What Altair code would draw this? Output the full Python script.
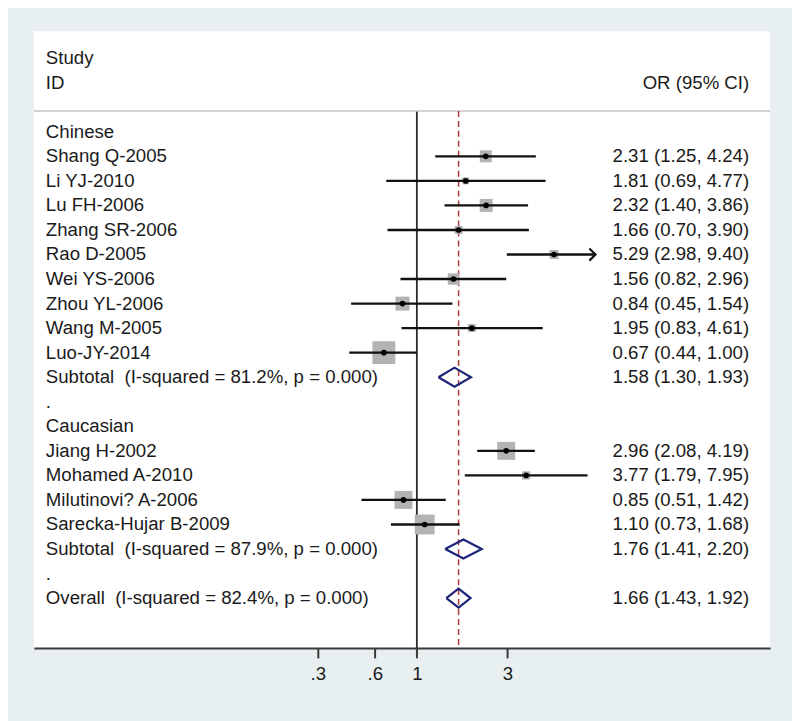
import altair as alt
import pandas as pd

# ---------------- data ----------------
studies = ["Shang Q-2005", "Li YJ-2010", "Lu FH-2006", "Zhang SR-2006", "Rao D-2005",
           "Wei YS-2006", "Zhou YL-2006", "Wang M-2005", "Luo-JY-2014",
           "Jiang H-2002", "Mohamed A-2010", "Milutinovi? A-2006", "Sarecka-Hujar B-2009"]
study_rows = [4, 5, 6, 7, 8, 9, 10, 11, 12, 16, 17, 18, 19]
or_vals = [2.31, 1.81, 2.32, 1.66, 5.29, 1.56, 0.84, 1.95, 0.67, 2.96, 3.77, 0.85, 1.10]
lo_vals = [1.25, 0.69, 1.40, 0.70, 2.98, 0.82, 0.45, 0.83, 0.44, 2.08, 1.79, 0.51, 0.73]
hi_vals = [4.24, 4.77, 3.86, 3.90, 9.40, 2.96, 1.54, 4.61, 1.00, 4.19, 7.95, 1.42, 1.68]
weights = [5.7, 1.9, 6.7, 2.5, 3.2, 5.2, 7.7, 2.5, 20.8, 12.8, 2.7, 12.8, 15.7]

summary_labels = ["Subtotal\u00a0 (I-squared = 81.2%, p = 0.000)",
                  "Subtotal\u00a0 (I-squared = 87.9%, p = 0.000)",
                  "Overall\u00a0 (I-squared = 82.4%, p = 0.000)"]
summary_rows = [13, 20, 22]
sum_or = [1.58, 1.76, 1.66]
sum_lo = [1.30, 1.41, 1.43]
sum_hi = [1.93, 2.20, 1.92]

header_labels = ["Study", "ID", "Chinese", ".", "Caucasian", "."]
header_rows = [0, 1, 3, 14, 15, 21]

tick_values = [0.3, 0.6, 1, 3]
tick_labels = [".3", ".6", "1", "3"]

overall_or = 1.66
x_clip = 8.75          # right end of the plotted range (arrow)
sep_row = 2.15
row_min, row_max = -1.096, 24.03
x_domain = [0.00955, 72.97]

FONT = "Liberation Sans"
FS = 18.7
W, H = 739, 619

# ---------------- tables ----------------
st = pd.DataFrame({"label": studies, "row": study_rows, "or": or_vals,
                   "lo": lo_vals, "hi": hi_vals, "w": weights})
st["hi_c"] = st["hi"].clip(upper=x_clip)
st["txt"] = [f"{o:.2f} ({l:.2f}, {h:.2f})" for o, l, h in zip(or_vals, lo_vals, hi_vals)]
arrows = st[st["hi"] > x_clip].copy()

sm = pd.DataFrame({"label": summary_labels, "row": summary_rows,
                   "or": sum_or, "lo": sum_lo, "hi": sum_hi})
sm["txt"] = [f"{o:.2f} ({l:.2f}, {h:.2f})" for o, l, h in zip(sum_or, sum_lo, sum_hi)]

half = 0.39
dpts = []
for i, r in sm.iterrows():
    pts = [(r["lo"], r["row"]), (r["or"], r["row"] - half), (r["hi"], r["row"]),
           (r["or"], r["row"] + half), (r["lo"], r["row"])]
    for k, (xx, yy) in enumerate(pts):
        dpts.append({"g": i, "k": k, "x": xx, "y": yy})
diam = pd.DataFrame(dpts)

left_txt = pd.concat([
    pd.DataFrame({"label": header_labels, "row": header_rows}),
    st[["label", "row"]], sm[["label", "row"]]], ignore_index=True)
right_txt = pd.concat([
    pd.DataFrame({"txt": ["OR (95% CI)"], "row": [1]}),
    st[["txt", "row"]], sm[["txt", "row"]]], ignore_index=True)

vlines = pd.DataFrame({"x": [1, overall_or], "kind": ["null", "overall"],
                       "y": [sep_row, sep_row], "y2": [row_max, row_max]})

# ---------------- scales ----------------
xs = alt.Scale(type="log", domain=x_domain, nice=False)
ys = alt.Scale(domain=[row_min, row_max], reverse=True, nice=False, zero=False)

label_expr = " : ".join(
    [f"datum.value == {v} ? '{t}'" for v, t in zip(tick_values, tick_labels)]) + " : ''"

xaxis = alt.Axis(values=tick_values, labelExpr=label_expr, title=None, grid=False,
                 domainColor="#3a3a3a", domainWidth=2, tickColor="#3a3a3a", tickWidth=2,
                 tickSize=10, labelFont=FONT, labelFontSize=FS, labelColor="#1a1a1a",
                 labelPadding=7)


def X(field):
    return alt.X(field, scale=xs, axis=xaxis)


def Y(field):
    return alt.Y(field, scale=ys, axis=None)


sep = alt.Chart(pd.DataFrame({"row": [sep_row]})).mark_rule(
    color="#c4c4c4", strokeWidth=1.5).encode(
    y=Y("row:Q"), x=alt.value(0), x2=alt.value(W))

null_line = alt.Chart(vlines[vlines.kind == "null"]).mark_rule(
    color="#2a2a2a", strokeWidth=1.8).encode(
    x=X("x:Q"), y=Y("y:Q"), y2="y2:Q")

ov_line = alt.Chart(vlines[vlines.kind == "overall"]).mark_rule(
    color="#b03a3a", strokeWidth=1.5, strokeDash=[6, 4]).encode(
    x=X("x:Q"), y=Y("y:Q"), y2="y2:Q")

boxes = alt.Chart(st).mark_square(color="#b3b3b3", opacity=1).encode(
    x=X("or:Q"), y=Y("row:Q"),
    size=alt.Size("w:Q", scale=alt.Scale(domain=[0, 25], range=[0, 25 * 25.4]), legend=None))

ci = alt.Chart(st).mark_rule(color="#111111", strokeWidth=2.4).encode(
    x=X("lo:Q"), x2="hi_c:Q", y=Y("row:Q"))

dots = alt.Chart(st).mark_point(filled=True, color="#000000", size=32, opacity=1).encode(
    x=X("or:Q"), y=Y("row:Q"))

arrow = alt.Chart(arrows).mark_point(
    shape="M-1,-1L0,0L-1,1", filled=False, color="#111111", strokeWidth=2.2,
    size=150, opacity=1).encode(
    x=X("hi_c:Q"), y=Y("row:Q"))

diamonds = alt.Chart(diam).mark_line(color="#1c2378", strokeWidth=2.2).encode(
    x=X("x:Q"), y=Y("y:Q"), detail="g:N", order="k:Q")

ltext = alt.Chart(left_txt).mark_text(
    align="left", baseline="middle", font=FONT, fontSize=FS, color="#1a1a1a").encode(
    x=alt.value(12), y=Y("row:Q"), text="label:N")

rtext = alt.Chart(right_txt).mark_text(
    align="right", baseline="middle", font=FONT, fontSize=FS, color="#1a1a1a").encode(
    x=alt.value(718), y=Y("row:Q"), text="txt:N")

chart = alt.layer(null_line, sep, ov_line, boxes, ci, dots, arrow, diamonds, ltext, rtext).properties(
    width=W, height=H,
    background="#e8eff1",
    padding={"left": 26, "top": 22, "right": 22, "bottom": 72},
    autosize=alt.AutoSizeParams(type="none"),
).configure_view(fill="white", strokeWidth=0)

chart.save("out.html", embed_options={"renderer": "svg", "actions": False})
